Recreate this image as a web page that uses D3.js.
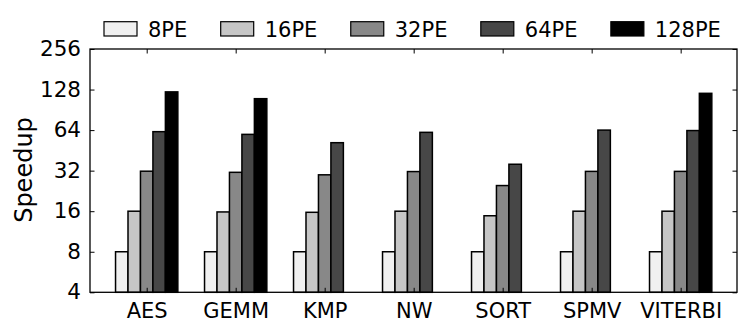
<!DOCTYPE html>
<html><head><meta charset="utf-8">
<script src="https://cdn.jsdelivr.net/npm/d3@7"></script>
<style>body{margin:0;background:#fff}svg{display:block}text{font-family:"DejaVu Sans",sans-serif;fill:#000}</style>
</head><body><svg id="c" width="748" height="331"></svg>
<script>
const categories = ["AES","GEMM","KMP","NW","SORT","SPMV","VITERBI"];
const seriesNames = ["8PE","16PE","32PE","64PE","128PE"];
const seriesColors = ["#f0f0f0","#c6c6c6","#888888","#474747","#000000"];
const pe8   = [8, 8, 8, 8, 8, 8, 8];
const pe16  = [16, 15.8, 15.7, 16, 14.8, 16, 16];
const pe32  = [31.7, 31.1, 29.8, 31.5, 24.8, 31.6, 31.6];
const pe64  = [62.3, 59.5, 51.6, 61.6, 35.7, 64, 63.5];
const pe128 = [123, 109.5, null, null, null, null, 120];
const yTicks = [4, 8, 16, 32, 64, 128, 256];
const seriesValues = [pe8, pe16, pe32, pe64, pe128];

const svg = d3.select("#c");
const L = 90, R = 737, T = 49, B = 292.3;
const x = d3.scaleLinear().domain([-0.637, 6.633]).range([L, R]);
const y = d3.scaleLog().base(2).domain([4, 256]).range([B, T]);
const bw = 0.14;

// bars
seriesValues.forEach((vals, j) => {
  svg.append("g").selectAll("rect")
    .data(vals.map((v, i) => ({v, i})).filter(d => d.v != null))
    .join("rect")
    .attr("x", d => x(d.i + (j - 2.5) * bw))
    .attr("width", x(bw) - x(0))
    .attr("y", d => y(d.v))
    .attr("height", d => y(4) - y(d.v))
    .attr("fill", seriesColors[j])
    .attr("stroke", "#000")
    .attr("stroke-width", 1.5);
});

// frame
svg.append("rect").attr("x", L).attr("y", T).attr("width", R - L).attr("height", B - T)
  .attr("fill", "none").attr("stroke", "#000").attr("stroke-width", 1.3);

const tl = 4.5;
// y axis (left labels, inward ticks both sides)
const yAx = d3.axisLeft(y).tickValues(yTicks).tickFormat(d3.format("d")).tickSizeInner(-tl).tickSizeOuter(0).tickPadding(9);
const gy = svg.append("g").attr("transform", `translate(${L},0)`).call(yAx);
gy.select(".domain").remove();
gy.selectAll("text").style("font-size", "21.5px").attr("dy", "0.3em");
const gyr = svg.append("g").attr("transform", `translate(${R},0)`).call(d3.axisRight(y).tickValues(yTicks).tickFormat("").tickSizeInner(-tl).tickSizeOuter(0));
gyr.select(".domain").remove();

// x axis
const xAx = d3.axisBottom(x).tickValues(d3.range(categories.length)).tickFormat(i => categories[i]).tickSizeInner(-tl).tickSizeOuter(0).tickPadding(11);
const gx = svg.append("g").attr("transform", `translate(0,${B})`).call(xAx);
gx.select(".domain").remove();
gx.selectAll("text").style("font-size", "21px");
const gxt = svg.append("g").attr("transform", `translate(0,${T})`).call(d3.axisTop(x).tickValues(d3.range(categories.length)).tickFormat("").tickSizeInner(-tl).tickSizeOuter(0));
gxt.select(".domain").remove();

// y label
svg.append("text").attr("transform", "translate(32,170) rotate(-90)")
  .attr("text-anchor", "middle").style("font-size", "24px").text("Speedup");

// legend
let lx = 104;
seriesNames.forEach((n, j) => {
  svg.append("rect").attr("x", lx).attr("y", 21.7).attr("width", 33).attr("height", 14.3)
    .attr("fill", seriesColors[j]).attr("stroke", "#000").attr("stroke-width", 1.2);
  const t = svg.append("text").attr("x", lx + 44).attr("y", 36.8).style("font-size", "21px").text(n);
  lx = lx + 44 + t.node().getComputedTextLength() + 33.4;
});
</script></body></html>
